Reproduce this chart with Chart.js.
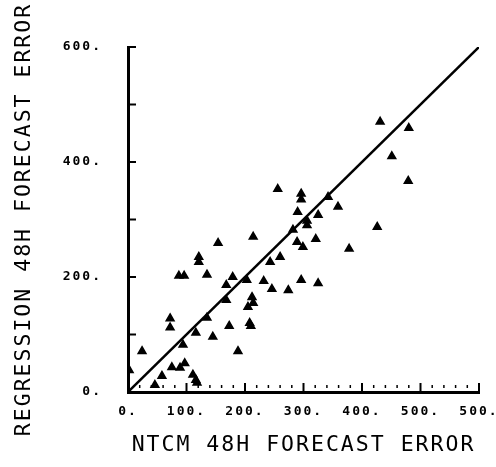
<!DOCTYPE html>
<html lang="en">
<head>
<meta charset="UTF-8">
<title>Regression vs NTCM 48H forecast error</title>
<script src="https://cdn.jsdelivr.net/npm/chart.js"></script>
<style>
  html, body { margin: 0; padding: 0; background: #fff; }
  #wrap { width: 496px; height: 467px; }
</style>
</head>
<body>
<div id="wrap"><canvas id="scatter"></canvas></div>
<script>
// NTCM 48h forecast error (x) vs regression 48h forecast error (y)
const ntcmErr = [431, 480, 451, 479, 426, 256, 296, 296, 290, 342,
                 325, 359, 306, 306, 282, 214, 289, 299, 321, 378,
                 260, 243, 203, 232, 246, 274, 296, 325, 212, 214,
                 205, 208, 210, 154, 121, 121, 87, 96, 135, 179,
                 168, 72, 72, 24, 2, 168, 135, 116, 94, 145,
                 173, 188, 75, 89, 97, 58, 46, 111, 116, 118];
const regErr  = [470, 459, 410, 367, 287, 353, 345, 335, 313, 339,
                 308, 322, 298, 290, 282, 270, 261, 252, 266, 249,
                 235, 226, 195, 193, 179, 177, 195, 189, 165, 155,
                 148, 120, 115, 259, 235, 226, 202, 202, 204, 200,
                 186, 128, 112, 71, 38, 160, 129, 103, 82, 96,
                 115, 71, 43, 42, 50, 28, 12, 30, 21, 16];

// perfect-agreement line
const fitX = [0, 600];
const fitY = [0, 600];

const xTickLabels = ['0.', '100.', '200.', '300.', '400.', '500.', '500.'];
const yTickLabels = ['0.', '', '200.', '', '400.', '', '600.'];

const tickFont = { family: 'DejaVu Sans Mono', size: 13, weight: 'bold' };
const titleFont = { family: 'DejaVu Sans Mono', size: 21.5 };

// line-printer look: spread the letters out
const spacing = {
    id: 'spacing',
    beforeLayout(chart) { chart.ctx.letterSpacing = '2px'; },
    beforeDraw(chart) { chart.ctx.letterSpacing = '2px'; }
};

// ticks drawn inside the frame, minor marks every 20 on x
const tickMarks = {
    id: 'tickMarks',
    afterDraw(chart) {
        const { ctx, scales: { x, y } } = chart;
        ctx.save();
        ctx.strokeStyle = '#000';
        for (let v = 0; v <= 600; v += 20) {
            const px = x.getPixelForValue(v);
            const major = v % 100 === 0;
            ctx.lineWidth = major ? 2 : 1.5;
            ctx.beginPath();
            ctx.moveTo(px, y.bottom - (major ? 9 : 7));
            ctx.lineTo(px, y.bottom - (major ? 0 : 4));
            ctx.stroke();
        }
        for (let v = 100; v <= 600; v += 100) {
            const py = y.getPixelForValue(v);
            ctx.lineWidth = 2;
            ctx.beginPath();
            ctx.moveTo(x.left, py);
            ctx.lineTo(x.left + 8, py);
            ctx.stroke();
        }
        ctx.restore();
    }
};

const ctx = document.getElementById('scatter').getContext('2d');
new Chart(ctx, {
    type: 'scatter',
    data: {
        datasets: [
            {
                data: ntcmErr.map((v, i) => ({ x: v, y: regErr[i] })),
                pointStyle: 'triangle',
                pointRadius: 4.5,
                backgroundColor: '#000',
                borderColor: '#000',
                borderWidth: 1.5
            },
            {
                type: 'line',
                data: fitX.map((v, i) => ({ x: v, y: fitY[i] })),
                borderColor: '#000',
                borderWidth: 2.5,
                pointRadius: 0
            }
        ]
    },
    options: {
        responsive: true,
        maintainAspectRatio: false,
        animation: false,
        events: [],
        layout: { padding: { top: 47, right: 17, left: 0, bottom: 0 } },
        plugins: { legend: { display: false }, tooltip: { enabled: false } },
        scales: {
            x: {
                type: 'linear', min: 0, max: 600,
                grid: { drawOnChartArea: false, drawTicks: false },
                border: { color: '#000', width: 3 },
                ticks: {
                    stepSize: 100, color: '#000', font: tickFont, padding: 12,
                    maxRotation: 0, autoSkip: false,
                    callback: v => xTickLabels[v / 100]
                },
                title: { display: true, text: 'NTCM 48H FORECAST ERROR', color: '#000',
                         font: titleFont, padding: { top: 0, bottom: 9 } },
                afterFit(s) { s.height = 75; s.paddingLeft = 0; s.paddingRight = 0; }
            },
            y: {
                type: 'linear', min: 0, max: 600,
                grid: { drawOnChartArea: false, drawTicks: false },
                border: { color: '#000', width: 3 },
                ticks: {
                    stepSize: 100, color: '#000', font: tickFont, padding: 26,
                    autoSkip: false,
                    callback: v => yTickLabels[v / 100]
                },
                title: { display: true, text: 'REGRESSION 48H FORECAST ERROR', color: '#000',
                         font: titleFont, padding: { top: 12, bottom: 0 } },
                afterFit(s) { s.width = 128; s.paddingTop = 0; s.paddingBottom = 0; }
            }
        }
    },
    plugins: [spacing, tickMarks]
});
</script>
</body>
</html>
